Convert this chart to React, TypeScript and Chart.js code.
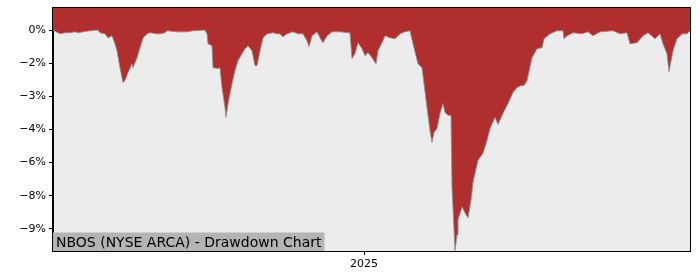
import React, { useEffect, useRef } from "react";
import { Chart, registerables } from "chart.js";

Chart.register(...registerables);

// Day offsets from the first session shown (~2024-02-25)
const dayOffsets: number[] = [
  0, 5, 7, 12, 17, 22, 25, 30, 37, 45, 47, 52, 55, 59, 62, 64, 67, 70, 72, 75,
  79, 80, 84, 87, 90, 94, 97, 104, 107, 112, 114, 124, 134, 140, 152, 154, 155, 159, 160, 165,
  167, 169, 172, 173, 175, 179, 182, 185, 189, 192, 195, 199, 202, 204, 207, 210, 214, 220, 224, 227,
  230, 234, 240, 245, 250, 254, 256, 259, 264, 267, 270, 274, 279, 287, 295, 297, 299, 302, 305, 309,
  312, 315, 319, 323, 325, 329, 332, 337, 342, 347, 352, 357, 360, 365, 369, 374, 377, 379, 381, 384,
  387, 390, 392, 395, 398, 399, 402, 404, 405, 409, 412, 415, 418, 420, 425, 430, 434, 437, 442, 445,
  450, 455, 460, 464, 468, 471, 474, 479, 484, 489, 491, 497, 504, 510, 511, 514, 520, 529, 535, 540,
  547, 560, 567, 574, 577, 584, 590, 595, 602, 607, 610, 614, 616, 620, 624, 629, 634, 637,
];

// Drawdown in percent
const drawdownPct: number[] = [
  0.0, -0.12, -0.17, -0.12, -0.12, -0.08, -0.12, -0.08, -0.03, 0.0, -0.12, -0.17, -0.35, -0.26, -0.62, -0.93, -1.7, -2.37, -2.28, -1.92,
  -1.52, -1.7, -1.25, -0.8, -0.35, -0.17, -0.12, -0.17, -0.17, -0.12, -0.03, -0.08, -0.08, -0.03, 0.0, -0.17, -0.62, -0.71, -1.7, -1.74,
  -1.7, -2.6, -3.5, -3.95, -3.32, -2.42, -1.83, -1.38, -1.07, -0.84, -0.71, -0.93, -1.61, -1.61, -0.93, -0.35, -0.17, -0.12, -0.17, -0.17,
  -0.3, -0.17, -0.08, -0.17, -0.17, -0.48, -0.75, -0.26, -0.08, -0.35, -0.57, -0.26, -0.08, -0.08, -0.12, -0.12, -1.29, -1.07, -0.57, -0.84,
  -1.16, -1.02, -1.25, -1.52, -0.93, -0.57, -0.26, -0.35, -0.39, -0.17, -0.08, -0.03, -0.62, -1.52, -1.7, -3.5, -4.54, -5.08, -4.63, -4.45,
  -3.77, -3.32, -3.73, -3.86, -3.86, -7.1, -9.98, -9.27, -8.59, -8.0, -8.27, -8.5, -7.69, -6.88, -5.89, -5.57, -4.99, -4.45, -3.95, -4.27,
  -3.77, -3.32, -2.82, -2.6, -2.51, -2.51, -2.28, -1.25, -0.84, -0.8, -0.39, -0.17, -0.03, -0.03, -0.39, -0.26, -0.12, -0.17, -0.08, -0.26,
  -0.08, -0.03, -0.17, -0.12, -0.62, -0.57, -0.26, -0.12, -0.39, -0.17, -0.62, -1.07, -1.88, -0.93, -0.39, -0.17, -0.17, -0.03,
];

const xTickDays: number[] = [311];
const xTickLabels: string[] = ["2025"];
const yTickValues: number[] = [0, -1.5, -3, -4.5, -6, -7.5, -9];
const yTickLabels: string[] = ["0%", "\u22122%", "\u22123%", "\u22124%", "\u22126%", "\u22128%", "\u22129%"];
const titleText = "NBOS (NYSE ARCA) - Drawdown Chart";

const FONT = "'DejaVu Sans', sans-serif";

export default function App() {
  const canvasRef = useRef<HTMLCanvasElement | null>(null);

  useEffect(() => {
    document.body.style.margin = "0";
    const canvas = canvasRef.current;
    if (!canvas) return;

    const decor = {
      id: "decor",
      beforeDraw(chart: any) {
        const { ctx, chartArea: a } = chart;
        ctx.save();
        ctx.fillStyle = "#ffffff";
        ctx.fillRect(0, 0, chart.width, chart.height);
        ctx.fillStyle = "#ececec";
        ctx.fillRect(a.left, a.top, a.right - a.left, a.bottom - a.top);
        ctx.restore();
      },
      afterDraw(chart: any) {
        const { ctx, chartArea: a } = chart;
        ctx.save();
        ctx.font = `14px ${FONT}`;
        const w = ctx.measureText(titleText).width;
        ctx.fillStyle = "#b4b4b4";
        ctx.fillRect(a.left, a.bottom - 18.5, w + 6, 18.5);
        ctx.fillStyle = "#000000";
        ctx.textBaseline = "alphabetic";
        ctx.fillText(titleText, a.left + 3, a.bottom - 4.5);
        ctx.strokeStyle = "#000000";
        ctx.lineWidth = 1;
        ctx.strokeRect(Math.round(a.left) - 0.5, Math.round(a.top) - 0.5, Math.round(a.right - a.left) + 1, Math.round(a.bottom - a.top) + 1);
        ctx.restore();
      },
    };

    const chart = new Chart(canvas, {
      type: "line",
      data: {
        datasets: [
          {
            data: dayOffsets.map((d, i) => ({ x: d, y: drawdownPct[i] })),
            fill: "end",
            backgroundColor: "#b02e2e",
            borderColor: "rgba(140,140,140,0.85)",
            borderWidth: 1,
            pointRadius: 0,
            tension: 0,
          },
        ],
      },
      options: {
        animation: false,
        responsive: false,
        events: [],
        layout: { padding: { left: 0, right: 10, top: 8, bottom: 0 } },
        plugins: { legend: { display: false }, tooltip: { enabled: false } },
        scales: {
          x: {
            type: "linear",
            min: 0,
            max: 637,
            afterBuildTicks: (s: any) => {
              s.ticks = xTickDays.map((v) => ({ value: v }));
            },
            afterFit: (s: any) => {
              s.height = 29;
              s.paddingLeft = 0;
              s.paddingRight = 0;
            },
            ticks: {
              autoSkip: false,
              maxRotation: 0,
              padding: 3,
              color: "#000",
              font: { family: FONT, size: 11 },
              callback: (_v: any, i: number) => xTickLabels[i],
            },
            grid: { display: true, drawOnChartArea: false, drawTicks: true, tickLength: 4, color: "#000" },
            border: { display: true, color: "#000", width: 1 },
          },
          y: {
            type: "linear",
            min: -10,
            max: 1,
            afterBuildTicks: (s: any) => {
              s.ticks = yTickValues.map((v) => ({ value: v }));
            },
            afterFit: (s: any) => {
              s.width = 53;
              s.paddingTop = 0;
              s.paddingBottom = 0;
            },
            ticks: {
              autoSkip: false,
              padding: 3,
              color: "#000",
              font: { family: FONT, size: 11 },
              callback: (_v: any, i: number) => yTickLabels[i],
            },
            grid: { display: true, drawOnChartArea: false, drawTicks: true, tickLength: 4, color: "#000" },
            border: { display: true, color: "#000", width: 1 },
          },
        },
      },
      plugins: [decor],
    });

    return () => chart.destroy();
  }, []);

  return (
    <div style={{ width: 700, height: 280 }}>
      <canvas ref={canvasRef} width={700} height={280} style={{ display: "block" }} />
    </div>
  );
}
